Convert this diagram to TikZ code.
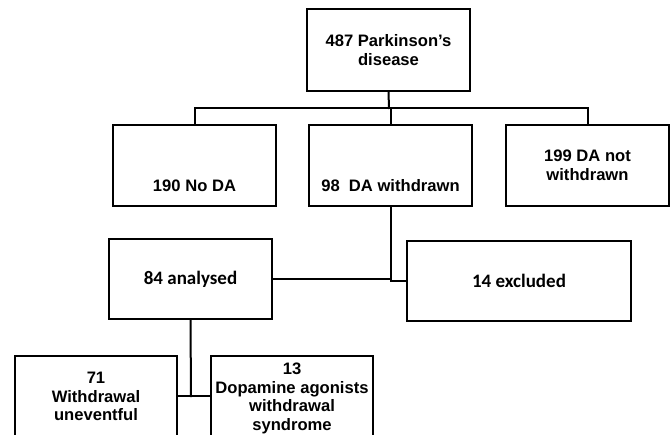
\documentclass[tikz,border=0pt]{standalone}
\usepackage{fontspec}
\setmainfont{Liberation Sans}
\newfontfamily\calib{Carlito}
\begin{document}
\begin{tikzpicture}[x=1pt,y=-1pt,
  box/.style={draw=black,line width=2pt,rectangle,inner sep=0pt},
  txt/.style={font=\fontsize{16.6}{18.6}\selectfont\bfseries,align=center,inner sep=0pt},
  ctxt/.style={font=\calib\fontsize{19}{22}\selectfont\bfseries,align=center,inner sep=0pt},
  conn/.style={line width=2pt,line cap=rect}]
\useasboundingbox (0,0) rectangle (672,434);
\clip (0,0) rectangle (672,434);
% boxes
\node[box,minimum width=163pt,minimum height=82pt] (pd) at (388.5,50) {};
\node[txt] at (pd.center) {487 Parkinson’s\\disease};
\node[box,minimum width=163pt,minimum height=81pt] (nod) at (194.5,165.5) {};
\node[txt,anchor=base] at (194.5,191) {190 No DA};
\node[box,minimum width=163pt,minimum height=81pt] (dw) at (390.5,165.5) {};
\node[txt,anchor=base] at (390.5,191) {98~ DA withdrawn};
\node[box,minimum width=163pt,minimum height=81pt] (dnw) at (587.5,165.5) {};
\node[txt] at (dnw.center) {199 DA not\\withdrawn};
\node[box,minimum width=163pt,minimum height=80pt] (an) at (190.5,279) {};
\node[ctxt] at (an.center) {84 analysed};
\node[box,minimum width=224pt,minimum height=80pt] (ex) at (519,281) {};
\node[ctxt] at (ex.center) {14 excluded};
\node[box,minimum width=162pt,minimum height=120pt] (wu) at (96,416) {};
\node[txt,anchor=north] at (96,372) {71\\Withdrawal\\uneventful};
\node[box,minimum width=162pt,minimum height=120pt] (ws) at (292,416) {};
\node[txt,anchor=north] at (292,363) {13\\Dopamine agonists\\withdrawal\\syndrome};
% connectors
\coordinate (j1) at (389,108);
\coordinate (j2) at (191,396);
\draw[conn] (pd.south) -- (j1);
\draw[conn] (nod.north) |- (j1) -| (dnw.north);
\draw[conn] (dw.north) -- (dw.north |- j1);
\draw[conn] (dw.south) |- (ex.west);
\draw[conn] (an.east) -- (dw.south |- an.east);
\draw[conn] (an.south) -- (j2);
\draw[conn] (wu.east |- j2) -- (ws.west |- j2);
\end{tikzpicture}
\end{document}
